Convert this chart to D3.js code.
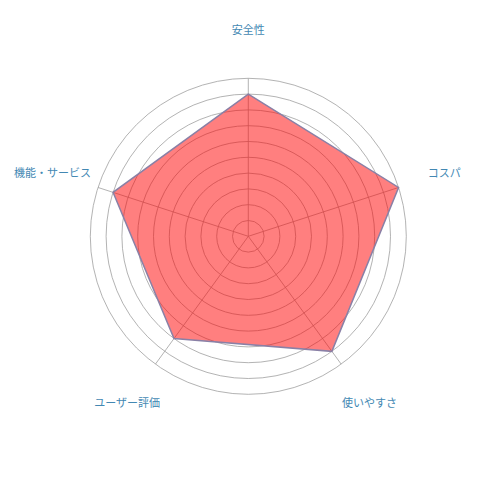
<!DOCTYPE html>
<html>
<head>
<meta charset="utf-8">
<script src="https://d3js.org/d3.v7.min.js"></script>
<style>
  html, body { margin: 0; padding: 0; background: #fff; }
  text { font-family: "Noto Sans CJK JP", "Noto Sans", sans-serif; }
</style>
</head>
<body>
<script>
var width = 500,
    height = 500;

var categories = ["安全性", "コスパ", "使いやすさ", "ユーザー評価", "機能・サービス"],
    scores = [4.5, 5, 4.5, 4, 4.5],
    ringLevels = [0.5, 1, 1.5, 2, 2.5, 3, 3.5, 4, 4.5, 5];

var cx = 248.3,
    cy = 236.3,
    radius = 158,
    labelRadius = 206;

var r = d3.scaleLinear().domain([0, 5]).range([0, radius]);

var angle = d3.scaleLinear()
    .domain([0, categories.length])
    .range([0, 2 * Math.PI]);

var svg = d3.select("body").append("svg")
    .attr("width", width)
    .attr("height", height);

var g = svg.append("g")
    .attr("transform", "translate(" + cx + "," + cy + ")");

// rings
g.selectAll("circle.ring")
    .data(ringLevels)
  .enter().append("circle")
    .attr("class", "ring")
    .attr("r", function(d) { return r(d); })
    .attr("fill", "none")
    .attr("stroke", "#a0a0a0")
    .attr("stroke-width", 0.8);

// spokes
g.selectAll("line.spoke")
    .data(categories)
  .enter().append("line")
    .attr("class", "spoke")
    .attr("x1", 0)
    .attr("y1", 0)
    .attr("x2", function(d, i) { return r(5) * Math.sin(angle(i)); })
    .attr("y2", function(d, i) { return -r(5) * Math.cos(angle(i)); })
    .attr("stroke", "#a0a0a0")
    .attr("stroke-width", 0.8);

var line = d3.lineRadial()
    .angle(function(d, i) { return angle(i); })
    .radius(function(d) { return r(d); })
    .curve(d3.curveLinearClosed);

g.append("path")
    .datum(scores)
    .attr("d", line)
    .attr("fill", "rgba(255, 0, 0, 0.5)")
    .attr("stroke", "#8a80a6")
    .attr("stroke-width", 1.5);

// labels
g.selectAll("text.label")
    .data(categories)
  .enter().append("text")
    .attr("class", "label")
    .attr("x", function(d, i) { return labelRadius * Math.sin(angle(i)); })
    .attr("y", function(d, i) { return -labelRadius * Math.cos(angle(i)); })
    .attr("text-anchor", "middle")
    .attr("dy", "0.35em")
    .attr("font-size", 11)
    .attr("fill", "#4388b3")
    .text(function(d) { return d; });
</script>
</body>
</html>
